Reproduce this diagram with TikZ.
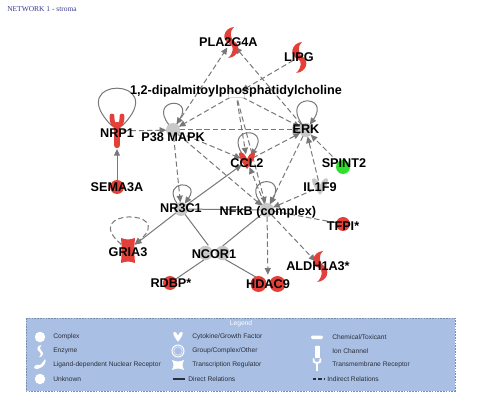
\documentclass[tikz,border=0pt]{standalone}
\usepackage{fontspec}
\setmainfont{Liberation Sans}
\newfontfamily\titlefont{Liberation Serif}
\usepackage{xcolor}
\definecolor{ipared}{HTML}{E4403A}
\definecolor{ipagreen}{HTML}{2FE02F}
\definecolor{ipagray}{HTML}{C8C8C8}
\definecolor{edgegray}{HTML}{787878}
\definecolor{legfill}{HTML}{A9BFE3}
\definecolor{legline}{HTML}{7C8CA8}
\definecolor{legtext}{HTML}{2B2F3A}
\definecolor{titlenavy}{HTML}{3B3B8F}
\usepackage{tikz}
\usetikzlibrary{arrows.meta, shapes.geometric}
\pgfdeclarelayer{edges}
\pgfdeclarelayer{glyphs}
\pgfsetlayers{edges,glyphs,main}
\tikzset{
  mol/.style   ={circle, minimum size=10pt, inner sep=0pt, outer sep=0pt},
  gname/.style ={font=\fontsize{9.5}{11}\selectfont\bfseries, text=black, inner sep=0pt},
  titletxt/.style={font=\titlefont\fontsize{5.6}{7}\selectfont, text=titlenavy, anchor=west, inner sep=0pt},
  legtxt/.style={font=\fontsize{5}{6}\selectfont, text=legtext, anchor=west, inner sep=0pt},
  legtitle/.style={font=\fontsize{5}{6}\selectfont, text=white, inner sep=0pt},
  drel/.style  ={draw=edgegray, line width=0.75pt},
  irel/.style  ={drel, dash pattern=on 4pt off 2.2pt},
  arw/.style   ={-{Triangle[length=5pt, width=4.5pt]}},
  cpx/.pic={\fill[#1] (0,0) circle (7);},
  tfr/.pic={\fill[#1] (-9.5,0) circle (8); \fill[#1] (9.5,0) circle (8);},
  enz/.pic={\fill[#1] (3,-15) .. controls (-8,-14) and (-10,-1) .. (-1,2) .. controls (3,4) and (3,11) .. (-3,16)
             .. controls (8,15) and (10,4) .. (4,0) .. controls (-1,-3) and (-2,-10) .. (3,-15) -- cycle;},
  cyto/.pic={\fill[#1] (-8,-7) .. controls (-8,-10) and (-3,-9) .. (-1,-4) -- (0,-2) -- (1,-4) .. controls (3,-9) and (8,-10) .. (8,-7)
             .. controls (8,-2) and (3,4) .. (0,8) .. controls (-3,4) and (-8,-2) .. (-8,-7) -- cycle;},
  rcpt/.pic={\draw[#1, line width=3.6pt, line cap=round] (-5,-15) .. controls (-5,-7) and (-3,-5) .. (0,-5) .. controls (3,-5) and (5,-7) .. (5,-15);
             \draw[#1, line width=4.8pt, line cap=round] (0,-6) -- (0,14);},
  ionch/.pic={\fill[#1] (-7,-12) .. controls (0,-10) .. (7,-12) .. controls (6,0) .. (7,13) .. controls (0,11) .. (-7,13) .. controls (-6,0) .. (-7,-12) -- cycle;},
  drum/.pic={\fill[#1] (-6,-5) .. controls (0,-3) .. (6,-5) .. controls (4,0) .. (6,5) .. controls (0,3) .. (-6,5) .. controls (-4,0) .. (-6,-5) -- cycle;},
  chem/.pic={\draw[gray!30, fill=white] (-8,-3) rectangle (8,3);},
}
\begin{document}
\begin{tikzpicture}[x=0.75pt, y=-0.75pt]
  \useasboundingbox (0,0) rectangle (481,402);
  \node[titletxt] (title) at (7,9) {NETWORK 1 - stroma};

  % molecules
  \node[mol, label={[gname, xshift=-2pt]center:PLA2G4A}] (pla) at (231,42) {};
  \node[mol, label={[gname]center:LIPG}] (lipg) at (299,57) {};
  \node[mol, label={[gname, yshift=2.2pt]center:{1,2-dipalmitoylphosphatidylcholine}}] (dppc) at (236,94) {};
  \node[mol, rectangle, minimum width=8pt, minimum height=27pt, label={[gname, yshift=-1.5pt]center:NRP1}] (nrp) at (117,131) {};
  \node[mol, label={[gname, yshift=-5.2pt]center:P38 MAPK}] (p38) at (173,130) {};
  \node[mol, label={[gname, yshift=1pt]center:ERK}] (erk) at (306,130) {};
  \node[mol, label={[gname, yshift=-1.5pt]center:CCL2}] (ccl) at (247,161) {};
  \node[mol, label={[gname, xshift=0.7pt, yshift=3pt]center:SPINT2}] (spint) at (343,167) {};
  \node[mol, label={[gname]center:SEMA3A}] (sema) at (117,187) {};
  \node[mol, label={[gname]center:IL1F9}] (il1f9) at (320,187) {};
  \node[mol, label={[gname, yshift=0.7pt]center:NR3C1}] (nr3c1) at (181,209) {};
  \node[mol, label={[gname, xshift=0.7pt, yshift=-1.5pt]center:NFkB (complex)}] (nfkb) at (267,210) {};
  \node[mol, label={[gname, yshift=-1.5pt]center:TFPI*}] (tfpi) at (343,224) {};
  \node[mol, minimum size=13pt, label={[gname, yshift=-1.5pt]center:GRIA3}] (gria) at (128,250) {};
  \node[mol, ellipse, minimum width=27pt, minimum height=12pt, label={[gname, yshift=-0.7pt]center:NCOR1}] (ncor) at (214,253) {};
  \node[mol, label={[gname, xshift=-1.5pt]center:ALDH1A3*}] (aldh) at (320,266) {};
  \node[mol, label={[gname, xshift=0.7pt]center:RDBP*}] (rdbp) at (170,283) {};
  \node[mol, ellipse, minimum width=29pt, minimum height=14pt, label={[gname]center:HDAC9}] (hdac) at (268,284) {};

  \begin{pgfonlayer}{glyphs}
    \pic at (pla) {enz=ipared};
    \pic at (lipg) {enz=ipared};
    \pic at (aldh) {enz=ipared};
    \pic at (dppc) {chem};
    \pic at (nrp) {rcpt=ipared};
    \pic at (p38) {cpx=ipagray};
    \pic at (erk) {cpx=ipagray};
    \pic at (ccl) {cyto=ipared};
    \pic at (spint) {cpx=ipagreen};
    \pic at (sema) {cpx=ipared};
    \pic at (il1f9) {cyto=ipagray};
    \pic at (nr3c1) {cpx=ipagray};
    \pic at (nfkb) {cpx=ipagray};
    \pic at (tfpi) {cpx=ipared};
    \pic at (gria) {ionch=ipared};
    \pic[scale=0.9] at (ncor) {tfr=ipagray};
    \pic at (rdbp) {cpx=ipared};
    \pic at (hdac) {tfr=ipared};
  \end{pgfonlayer}

  \begin{pgfonlayer}{edges}
    \fill[white] (0,0) rectangle (481,402);
    % indirect relations
    \draw[irel, arw] (p38) -- (pla);
    \draw[irel, arw] (erk) -- (pla);
    \draw[irel, arw] (lipg) -- (dppc);
    \draw[irel, arw] (dppc) -- (p38);
    \draw[irel, arw] (dppc) -- (erk);
    \draw[irel, arw] (dppc) -- (ccl);
    \draw[irel, arw] (dppc) -- (nfkb);
    \draw[irel, arw] (p38) -- (erk);
    \draw[irel, arw] (p38) -- (ccl);
    \draw[irel, arw] (p38) -- (nr3c1);
    \draw[irel, arw] (p38) -- (nfkb);
    \draw[irel, arw] (nrp) -- (p38);
    \draw[irel, arw] (ccl) -- (erk);
    \draw[irel, arw] (spint) -- (erk);
    \draw[irel, arw] (il1f9) -- (erk);
    \draw[irel, arw] (il1f9) -- (nfkb);
    \draw[irel, arw] (erk) -- (nfkb);
    \draw[irel, arw] (nfkb) -- (ccl);
    \draw[irel, arw] (nfkb) -- (hdac);
    \draw[irel, arw] (nfkb) -- (aldh);
    \draw[irel] (nfkb) -- (tfpi);
    % direct relations
    \draw[drel, arw] (sema) -- (nrp);
    \draw[drel, arw] (nr3c1) -- (ccl);
    \draw[drel] (nr3c1) -- (nfkb);
    \draw[drel, arw] (nr3c1) -- (gria);
    \draw[drel] (nr3c1) -- (ncor);
    \draw[drel] (nfkb) -- (ncor);
    \draw[drel] (ncor) -- (rdbp);
    \draw[drel] (ncor) -- (hdac);
    % self loops
    \draw[drel] (nrp) to[out=135, in=45, min distance=53pt] (nrp);
    \draw[drel, arw] (p38) to[out=128, in=58, min distance=25pt] (p38);
    \draw[drel, arw] (erk) to[out=125, in=55, min distance=28pt] (erk);
    \draw[drel, arw] (ccl) to[out=125, in=55, min distance=27pt] (ccl);
    \draw[drel, arw] (nfkb) to[out=132, in=62, min distance=27pt] (nfkb);
    \draw[drel, arw] (nr3c1) to[out=125, in=55, min distance=22pt] (nr3c1);
    \draw[irel, arw] (gria) to[out=140, in=40, min distance=42pt] (gria);
  \end{pgfonlayer}

  % legend
  \draw[legline, fill=legfill, line width=0.6pt, dash pattern=on 1.2pt off 0.9pt] (26,318) rectangle (455,391);
  \node[legtitle] (legtitle) at (241,324) {Legend};
  \foreach \txt [count=\i] in {Complex, Enzyme, Ligand-dependent Nuclear Receptor, Unknown}
    \node[legtxt] (lega\i) at (53,323+14*\i) {\txt};
  \foreach \txt [count=\i] in {Cytokine/Growth Factor, Group/Complex/Other, Transcription Regulator}
    \node[legtxt] (legb\i) at (192,323+14*\i) {\txt};
  \foreach \txt [count=\i] in {Chemical/Toxicant, Ion Channel, Transmembrane Receptor}
    \node[legtxt] (legc\i) at (332,323+14*\i) {\txt};
  \node[legtxt] (legb4) at (188,379) {Direct Relations};
  \node[legtxt] (legc4) at (327,379) {Indirect Relations};
  \pic[scale=0.75] at (40,337) {cpx=white};
  \pic[scale=0.4] at (40,351) {enz=white};
  \fill[white] (34,368) .. controls (34,365) and (38,364) .. (40,365) .. controls (42,364) and (44,361) .. (45,359)
    .. controls (47,361) and (44,367) .. (40,368) .. controls (38,369) and (36,370) .. (34,368) -- cycle;
  \pic[scale=0.75] at (40,379) {cpx=white};
  \pic[scale=0.6] at (178,337) {cyto=white};
  \draw[white, line width=0.8pt] (178,351) circle (6);
  \draw[white!70!legfill, line width=0.5pt] (178,351) circle (4.2);
  \pic at (178,365) {drum=white};
  \draw[legtext, line width=0.8pt] (173,379) -- (185,379);
  \fill[white, rounded corners=1pt] (311,335.5) rectangle (323,339);
  \fill[white] (314.5,346) rectangle (320,358);
  \fill[white!60!gray] (315.5,344.5) rectangle (319,346);
  \draw[white, line width=1.4pt, line cap=round] (313.5,359) .. controls (313.5,362) .. (317,363) .. controls (320.5,362) .. (320.5,359);
  \draw[white, line width=1.8pt] (317,362.5) -- (317,371);
  \draw[legtext, line width=0.8pt, dash pattern=on 2.5pt off 1.5pt] (313,379) -- (325,379);
\end{tikzpicture}
\end{document}
